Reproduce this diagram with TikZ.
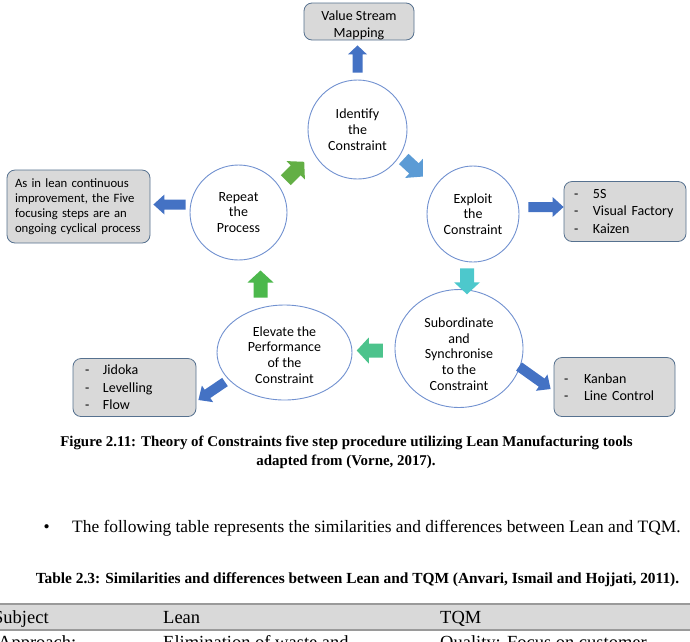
\documentclass[tikz,border=0pt]{standalone}
\usepackage{fontspec}
\setmainfont{Liberation Serif}
\newfontfamily\calibri{Carlito}
\usetikzlibrary{calc,shapes.geometric}
\definecolor{boxfill}{HTML}{D9D9D9}
\definecolor{boxline}{HTML}{56718F}
\definecolor{circline}{HTML}{7191D0}
\definecolor{outarrow}{HTML}{4472C4}
\definecolor{arrA}{HTML}{5B9BD5}
\definecolor{arrB}{HTML}{4DC8CC}
\definecolor{arrC}{HTML}{4CC38C}
\definecolor{arrD}{HTML}{4CB84C}
\definecolor{arrE}{HTML}{63AF45}
\definecolor{tabfill}{HTML}{D9D9D9}
\definecolor{tabline}{HTML}{9A9A9A}
% block arrow: #1 start, #2 end (both in parentheses), #3 half shaft, #4 half head, #5 head length, #6 colour
\newcommand\blockarrow[6]{%
  \path #1 coordinate (ba-s) #2 coordinate (ba-e);
  \path ($(ba-e)!#5!(ba-s)$) coordinate (ba-h);
  \fill[#6] ($(ba-s)!#3!90:(ba-e)$) -- ($(ba-h)!#3!-90:(ba-s)$) -- ($(ba-h)!#4!-90:(ba-s)$)
    -- (ba-e) -- ($(ba-h)!#4!90:(ba-s)$) -- ($(ba-h)!#3!90:(ba-s)$) -- ($(ba-s)!#3!-90:(ba-e)$) -- cycle;}
\newcommand\toprule[1]{\rule{0pt}{#1}}
\tikzset{
  stepnode/.style={ellipse, draw=circline, line width=0.9pt, fill=white, inner sep=0pt,
    align=center, font=\calibri\fontsize{14}{15.7}\selectfont},
  toolbox/.style={rectangle, rounded corners=8pt, draw=boxline, line width=0.8pt, fill=boxfill,
    inner ysep=0pt, font=\calibri\fontsize{14}{17.5}\selectfont},
  plain/.style={inner sep=0pt, font=\fontsize{17.4}{20}\selectfont},
  capt/.style={inner sep=0pt, font=\bfseries\fontsize{14.9}{17}\selectfont},
  tcapt/.style={inner sep=0pt, font=\bfseries\fontsize{15.4}{17}\selectfont},
  cell/.style={inner sep=0pt, anchor=base west, font=\fontsize{18.5}{21}\selectfont},
}
\begin{document}
\begin{tikzpicture}[x=1pt,y=-1pt]
\useasboundingbox (0,0) rectangle (690,641);
\clip (0,0) rectangle (690,641);

% step nodes
\node[stepnode, minimum width=99pt, minimum height=99pt] (identify) at (357.5,129.5) {Identify\\the\\Constraint};
\node[stepnode, minimum width=92pt, minimum height=96pt] (exploit) at (473,214) {Exploit\\the\\Constraint};
\node[stepnode, minimum width=128pt, minimum height=89pt] (sub) at (459,348.5) {\toprule{20.5pt}Subordinate\\and\\Synchronise\\to the\\Constraint};
\node[stepnode, minimum width=135pt, minimum height=95pt] (elevate) at (284.5,352.5) {\toprule{14.5pt}Elevate the\\Performance\\of the\\Constraint};
\node[stepnode, minimum width=97pt, minimum height=95pt] (repeat) at (238.5,212.5) {Repeat\\the\\Process};

% tool boxes
\node[toolbox, minimum width=110pt, minimum height=37pt, align=center, font=\calibri\fontsize{14}{17}\selectfont] (vsm) at (359,21.5) {\toprule{16.5pt}Value Stream\\Mapping};
\node[toolbox, text width=102pt, inner xsep=10pt, minimum height=60pt, align=left] (fives) at (625,211.5)
  {\makebox[19pt][l]{-}5S\\\makebox[19pt][l]{-}\mbox{Visual Factory}\\\makebox[19pt][l]{-}Kaizen};
\node[toolbox, text width=101pt, inner xsep=10pt, minimum height=59pt, align=left] (kanban) at (614.5,387)
  {\makebox[20pt][l]{-}Kanban\\\makebox[20pt][l]{-}\mbox{Line Control}};
\node[toolbox, text width=99pt, inner xsep=12pt, minimum height=58pt, align=left] (jidoka) at (134.5,387.5)
  {\makebox[18pt][l]{-}Jidoka\\\makebox[18pt][l]{-}Levelling\\\makebox[18pt][l]{-}Flow};
\node[toolbox, text width=127pt, inner xsep=8pt, minimum height=73pt, align=left,
  font=\calibri\fontsize{12.7}{15.2}\selectfont] (repbox) at (78.5,206.5)
  {\mbox{As in lean continuous}\\\mbox{improvement, the Five}\\\mbox{focusing steps are an}\\\mbox{ongoing cyclical process}};

% cycle arrows
\coordinate (m1) at ($(identify)!0.5!(exploit)$);
\coordinate (m2) at ($(exploit)!0.5!(sub)$);
\coordinate (m3) at ($(sub)!0.5!(elevate)$);
\coordinate (m4) at ($(elevate)!0.5!(repeat)$);
\coordinate (m5) at ($(repeat)!0.5!(identify)$);
\blockarrow{($(m1)+(-11.5,-12.8)$)}{($(m1)+(7.5,4.8)$)}{7pt}{13pt}{12pt}{arrA}
\blockarrow{($(m2)+(1,-13)$)}{($(m2)+(1,13)$)}{7pt}{13pt}{12pt}{arrB}
\blockarrow{($(m3)+(11,0)$)}{($(m3)+(-15,0)$)}{7pt}{13pt}{12pt}{arrC}
\blockarrow{($(m4)+(-1,15)$)}{($(m4)+(-1,-12)$)}{7pt}{13pt}{12pt}{arrD}
\blockarrow{($(m5)+(-12.2,9.2)$)}{($(m5)+(6.2,-9.2)$)}{7pt}{13pt}{12pt}{arrE}

% outer arrows
\blockarrow{($(identify.north)+(0,-7)$)}{($(identify.north |- vsm.south)+(0,5)$)}{5pt}{9.5pt}{9pt}{outarrow}
\blockarrow{($(exploit.east)+(9,-7)$)}{($(fives.west)+(0,-4.5)$)}{5pt}{10pt}{11pt}{outarrow}
\blockarrow{($(sub)+(60,18)$)}{($(kanban.west)+(-3,2)$)}{5pt}{10pt}{11pt}{outarrow}
\blockarrow{($(elevate)+(-59.5,29.5)$)}{($(jidoka.east)+(2,12.5)$)}{5pt}{10pt}{11pt}{outarrow}
\blockarrow{($(repbox.east -| repeat.west)+(-4,-2)$)}{($(repbox.east)+(3,-2)$)}{5pt}{10pt}{11pt}{outarrow}

% captions and text
\node[capt, anchor=base] (cap1) at (346.5,446) {Figure 2.11: Theory of Constraints five step procedure utilizing Lean Manufacturing tools};
\node[capt, anchor=base] (cap2) at (346,465) {adapted from (Vorne, 2017).};
\node[plain, anchor=base west] (bul) at (43.5,532.5) {\textbullet};
\node[plain, anchor=base west] (btext) at (72,532.5) {The following table represents the similarities and differences between Lean and TQM.};
\node[tcapt, anchor=base] (tcap) at (357.5,583) {Table 2.3: Similarities and differences between Lean and TQM (Anvari, Ismail and Hojjati, 2011).};

% table
\fill[tabfill] (0,604) rectangle (690,630);
\draw[tabline, line width=2pt] (0,604) -- (690,604);
\draw[tabline, line width=1.2pt] (0,630) -- (690,630);
\node[cell] (h1) at (-7,623) {Subject};
\node[cell] (h2) at (163,623) {Lean};
\node[cell] (h3) at (440,623) {TQM};
\node[cell] (r1) at (-2,648.5) {Approach:};
\node[cell] (r2) at (163,648.5) {Elimination of waste and};
\node[cell] (r3) at (440,648.5) {Quality: Focus on customer};
\end{tikzpicture}
\end{document}
